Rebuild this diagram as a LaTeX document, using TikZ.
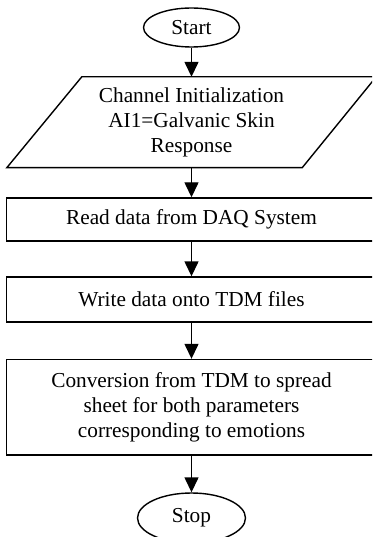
\documentclass[tikz,border=0pt]{standalone}
\usepackage{fontspec}
\setmainfont{Liberation Serif}
\usetikzlibrary{arrows.meta,shapes.geometric}
\begin{document}
\begin{tikzpicture}[x=1pt,y=1pt,
  every node/.style={font=\fontsize{21.3}{25}\selectfont, inner sep=0pt, line width=1.4pt},
  term/.style={ellipse, draw},
  procbox/.style={rectangle, draw, minimum width=370pt, align=center},
  flow/.style={line width=1.4pt, -{Triangle[length=15pt,width=14pt]}}
]
\useasboundingbox (0,0) rectangle (372,-537);
\clip (0,0) rectangle (372,-537);
\node[term, minimum width=96pt, minimum height=39pt] (start) at (191.5,-27.5) {Start};
\node[minimum width=368pt, minimum height=89.5pt, align=center] (init) at (191.5,-122.25)
  {Channel Initialization\\AI1=Galvanic Skin\\Response};
\draw[line width=1.4pt] ([xshift=75pt]init.north west) -- (init.north east)
  -- ([xshift=-74pt]init.south east) -- (init.south west) -- cycle;
\node[procbox, minimum height=43pt] (read) at (191.5,-219.5) {Read data from DAQ System};
\node[procbox, minimum height=45pt] (write) at (191.5,-299.5) {Write data onto TDM files};
\node[procbox, minimum height=95.5pt] (conv) at (191.5,-407.25)
  {Conversion from TDM to spread\\sheet for both parameters\\corresponding to emotions};
\node[term, minimum width=108pt, minimum height=50pt] (stop) at (191.5,-518) {Stop};
\draw[flow] (start) -- (init.north);
\draw[flow] (init.south) -- (read);
\draw[flow] (read) -- (write);
\draw[flow] (write) -- (conv);
\draw[flow] (conv) -- (stop);
\end{tikzpicture}
\end{document}
